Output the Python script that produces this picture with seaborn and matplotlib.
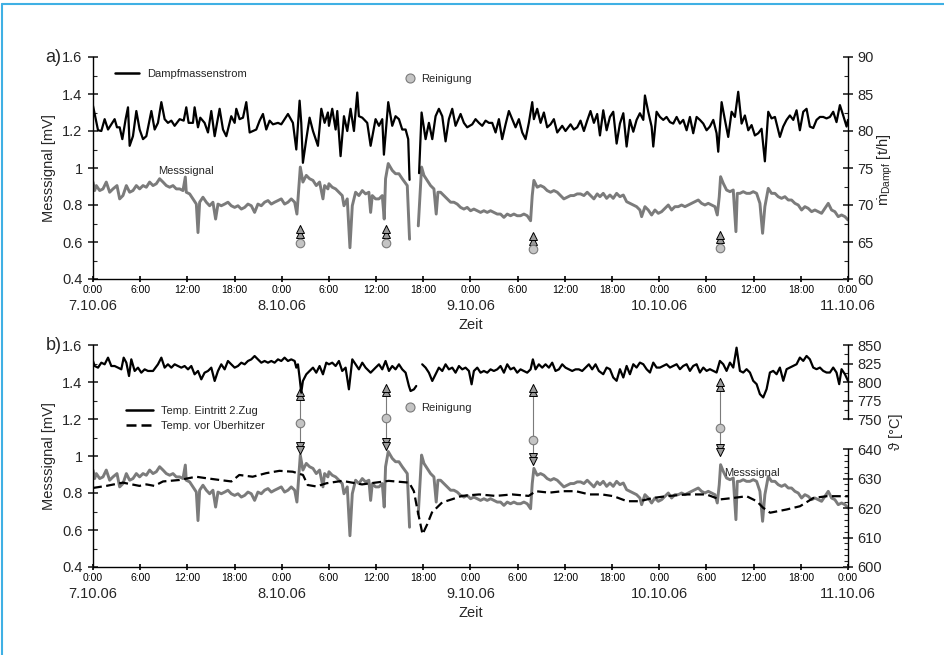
import numpy as np
import pandas as pd
import matplotlib
matplotlib.use('Agg')
import matplotlib.pyplot as plt
import seaborn as sns
from matplotlib.ticker import MultipleLocator, FuncFormatter, FixedLocator
from matplotlib.lines import Line2D

# ---------------- data (time in hours from 7.10.06 0:00) ----------------
sig_t = [0.00, 0.21, 0.42, 0.85, 1.27, 1.69, 2.12, 2.54, 3.05, 3.39, 3.81, 4.24, 4.66, 5.08, 5.51, 5.93, 6.36, 6.78,
         7.20, 7.63, 8.05, 8.47, 8.90, 9.32, 9.75, 10.17, 10.59, 11.02, 11.44, 11.74, 11.86, 12.29, 12.71, 13.14,
         13.35, 13.56, 13.98, 14.41, 14.83, 15.25, 15.59, 15.89, 16.31, 16.74, 17.16, 17.58, 18.01, 18.43, 18.86,
         19.28, 19.70, 20.13, 20.55, 20.97, 21.40, 21.82, 22.25, 22.67, 23.09, 23.52, 23.94, 24.36, 24.79, 25.21,
         25.64, 25.93, 26.19, 26.36, 26.69, 27.12, 27.54, 27.97, 28.39, 28.81, 29.24, 29.45, 29.87,
         30.00, 30.42, 30.85, 31.27, 31.69, 31.91, 32.33, 32.67, 32.97, 33.39, 33.81, 34.24, 34.66, 35.08, 35.30,
         35.51, 35.93, 36.36, 36.78, 37.03, 37.20, 37.54, 38.05, 38.47, 38.90, 39.32, 39.96, 40.25, 40.80,
         41.36, 41.78, 42.08, 42.50, 42.92, 43.35, 43.64, 43.86, 44.19, 44.62, 45.04, 45.47, 45.89, 46.31, 46.74,
         47.16, 47.58, 48.01, 48.43, 48.86, 49.28, 49.70, 50.13, 50.55, 50.97, 51.40, 51.82, 52.25, 52.67, 53.09,
         53.52, 53.94, 54.36, 54.79, 55.21, 55.64, 55.85, 56.06, 56.48, 56.91, 57.33, 57.75, 58.18, 58.60, 59.03,
         59.45, 59.87, 60.30, 60.72, 61.14, 61.57, 61.99, 62.42, 62.84, 63.26, 63.69, 64.11,
         64.46, 64.88, 65.31, 65.73, 66.15, 66.58, 67.00, 67.43, 67.85, 68.27, 68.70, 69.12, 69.54, 69.76, 70.18,
         70.60, 71.03, 71.45, 71.88, 72.30, 72.72, 73.15, 73.57, 73.99, 74.42, 74.84, 75.27, 75.69, 76.11, 76.54,
         76.96, 77.38, 77.81, 78.23, 78.65, 79.08, 79.38, 79.63, 79.80, 80.14, 80.56, 80.99, 81.41, 81.75, 81.92,
         82.26, 82.68, 83.10, 83.53, 83.95, 84.38, 84.80, 85.14, 85.43, 85.86, 86.28, 86.71, 87.13, 87.55, 87.98,
         88.40, 88.82, 89.25, 89.67, 90.10, 90.52, 90.94, 91.37, 91.79, 92.21, 92.64, 93.06, 93.49, 93.91, 94.33,
         94.76, 95.18, 95.61, 96.00]
sig_mv = [0.924, 0.878, 0.905, 0.878, 0.887, 0.924, 0.869, 0.887, 0.905, 0.833, 0.851, 0.905, 0.869, 0.878, 0.905,
          0.887, 0.905, 0.896, 0.924, 0.905, 0.915, 0.942, 0.924, 0.905, 0.896, 0.905, 0.887, 0.887, 0.878, 0.951,
          0.869, 0.860, 0.833, 0.805, 0.651, 0.815, 0.842, 0.815, 0.796, 0.815, 0.724, 0.805, 0.796, 0.805, 0.815,
          0.796, 0.787, 0.796, 0.778, 0.787, 0.805, 0.796, 0.760, 0.805, 0.796, 0.815, 0.824, 0.805, 0.815, 0.824,
          0.833, 0.805, 0.815, 0.833, 0.815, 0.751, 0.905, 1.005, 0.924, 0.960, 0.942, 0.933, 0.905, 0.924, 0.833,
          0.905, 0.887,
          0.915, 0.896, 0.887, 0.869, 0.851, 0.796, 0.833, 0.569, 0.796, 0.869, 0.851, 0.878, 0.860, 0.869, 0.760,
          0.851, 0.833, 0.833, 0.851, 0.724, 0.942, 1.024, 0.987, 0.969, 0.969, 0.942, 0.905, 0.615, np.nan,
          0.687, 1.005, 0.960, 0.933, 0.905, 0.887, 0.751, 0.869, 0.869, 0.851, 0.833, 0.815, 0.815, 0.805, 0.787,
          0.778, 0.787, 0.769, 0.778, 0.769, 0.760, 0.769, 0.760, 0.769, 0.760, 0.751, 0.751, 0.733, 0.751, 0.742,
          0.751, 0.742, 0.742, 0.751, 0.742, 0.715, 0.851, 0.933, 0.896, 0.905, 0.896, 0.878, 0.869, 0.878, 0.869,
          0.851, 0.833, 0.842, 0.851, 0.851, 0.860, 0.860, 0.851, 0.869, 0.851, 0.833, 0.860,
          0.845, 0.863, 0.836, 0.854, 0.836, 0.863, 0.845, 0.854, 0.818, 0.809, 0.800, 0.791, 0.773, 0.737, 0.791,
          0.773, 0.746, 0.773, 0.755, 0.764, 0.782, 0.800, 0.773, 0.791, 0.791, 0.800, 0.791, 0.800, 0.809, 0.818,
          0.827, 0.809, 0.800, 0.809, 0.800, 0.791, 0.746, 0.845, 0.953, 0.917, 0.881, 0.872, 0.881, 0.656, 0.863,
          0.863, 0.872, 0.863, 0.863, 0.872, 0.863, 0.809, 0.647, 0.791, 0.890, 0.863, 0.863, 0.845, 0.836, 0.845,
          0.827, 0.827, 0.809, 0.800, 0.773, 0.791, 0.782, 0.764, 0.773, 0.764, 0.755, 0.782, 0.809, 0.773, 0.764,
          0.737, 0.746, 0.737, 0.719]

steam_t = [0.00, 0.64, 1.06, 1.48, 1.91, 2.33, 2.75, 3.05, 3.39, 3.73, 4.15, 4.45, 4.66, 5.08, 5.51, 5.93, 6.36,
           6.78, 7.42, 7.84, 8.26, 8.69, 9.11, 9.53, 9.96, 10.38, 11.02, 11.53, 11.86, 12.16, 12.71, 12.92, 13.35,
           13.64, 14.19, 14.62, 15.04, 15.47, 16.10, 16.53, 16.95, 17.58, 18.01, 18.22, 18.64, 19.07, 19.49, 19.92,
           20.34, 20.76, 21.19, 21.61, 22.03, 22.46, 22.88, 23.52, 23.94, 24.79, 25.42, 25.85, 26.27, 26.48, 26.69,
           27.12, 27.54, 27.97, 28.60, 29.03, 29.45, 29.87,
           30.00, 30.42, 30.85, 31.06, 31.48, 31.91, 32.33, 32.75, 33.18, 33.60, 33.81, 34.24, 34.87, 35.30, 35.93,
           36.36, 36.78, 36.99, 37.54, 38.05, 38.47, 38.90, 39.32, 39.75, 40.08, 40.25, 40.80, 41.46, 41.78, 42.29,
           42.71, 43.14, 43.56, 43.98, 44.41, 44.83, 45.25, 45.68, 46.10, 46.74, 47.16, 47.58, 48.22, 48.64, 49.07,
           49.49, 49.92, 50.34, 50.76, 51.19, 51.61, 52.03, 52.46, 52.88, 53.31, 53.73, 54.15, 54.58, 55.00, 55.42,
           55.85, 56.06, 56.48, 56.91, 57.33, 57.75, 58.18, 58.60, 59.03, 59.66, 60.08, 60.72, 61.14, 61.57, 61.99,
           62.42, 62.84, 63.26, 63.69, 64.11,
           64.46, 64.88, 65.31, 65.73, 66.15, 66.58, 67.00, 67.43, 67.85, 68.27, 68.70, 69.12, 69.54, 69.97, 70.18,
           70.60, 71.03, 71.24, 71.66, 72.09, 72.51, 72.93, 73.36, 73.78, 74.21, 74.63, 75.05, 75.48, 75.90, 76.32,
           76.75, 77.17, 77.60, 78.02, 78.44, 78.87, 79.29, 79.50, 79.93, 80.35, 80.77, 81.20, 81.62, 82.04, 82.47,
           82.89, 83.32, 83.74, 84.16, 84.59, 85.01, 85.43, 85.86, 86.28, 86.71, 87.34, 87.76, 88.19, 88.61, 89.04,
           89.46, 89.88, 90.31, 90.73, 91.15, 91.58, 92.00, 92.43, 92.85, 93.27, 93.70, 94.12, 94.54, 94.97, 95.39,
           95.82, 96.00]
steam_th = [83.4, 80.1, 80.0, 81.6, 80.2, 80.9, 81.6, 80.5, 80.5, 78.9, 81.6, 83.2, 78.0, 79.3, 82.7, 80.2, 78.9,
            79.3, 82.7, 80.2, 81.1, 83.9, 81.6, 81.1, 81.4, 80.7, 81.6, 81.4, 83.2, 81.1, 81.1, 83.2, 80.5, 81.8,
            81.1, 79.8, 82.7, 79.3, 83.0, 80.2, 79.3, 82.0, 81.1, 83.0, 81.6, 81.8, 83.9, 79.8, 80.0, 80.2, 81.4,
            82.3, 80.2, 81.4, 80.9, 81.1, 80.9, 82.3, 81.1, 77.5, 84.1, 81.1, 75.7, 78.9, 81.8, 80.0, 78.0, 83.0,
            81.1, 82.5,
            80.7, 83.0, 80.2, 82.7, 76.6, 82.0, 80.0, 83.0, 80.0, 85.2, 82.0, 81.8, 81.1, 78.0, 81.6, 80.7, 81.6,
            76.8, 83.9, 80.7, 82.0, 81.6, 80.2, 80.2, 78.9, 73.4, np.nan, 74.3, 82.5, 78.9, 81.1, 78.9, 82.0, 83.0,
            82.0, 78.6, 81.6, 83.0, 80.7, 82.3, 81.1, 80.5, 80.9, 81.6, 81.1, 80.7, 81.4, 81.1, 81.1, 79.8, 81.6,
            78.9, 80.9, 82.7, 81.6, 80.5, 81.6, 79.8, 78.9, 81.1, 83.9, 81.6, 83.0, 81.1, 82.5, 80.5, 80.9, 81.6,
            79.8, 80.7, 80.0, 80.9, 80.2, 80.5, 81.4, 80.0, 81.4, 82.7, 81.1, 82.3,
            79.4, 82.8, 80.1, 81.9, 82.6, 78.3, 81.0, 82.4, 77.9, 81.5, 79.9, 81.5, 82.4, 81.5, 84.8, 82.6, 80.6,
            77.9, 82.6, 81.9, 81.5, 81.9, 81.2, 81.0, 81.9, 81.0, 81.5, 80.1, 81.9, 79.7, 81.9, 81.5, 81.0, 80.1,
            80.6, 81.5, 79.7, 77.2, 83.9, 81.5, 79.2, 82.6, 81.9, 85.3, 81.0, 82.1, 80.1, 80.8, 79.4, 79.7, 80.3,
            75.9, 82.6, 81.7, 81.9, 79.2, 80.6, 81.5, 82.1, 81.5, 82.8, 80.1, 82.6, 83.0, 80.6, 80.4, 81.5, 81.9,
            81.9, 81.7, 81.9, 82.6, 81.2, 83.5, 82.1, 80.6, 81.5]

t2z_t = [0.00, 0.21, 0.64, 1.06, 1.48, 1.91, 2.33, 2.75, 3.18, 3.60, 3.90, 4.24, 4.58, 4.87, 5.30, 5.72, 6.14, 6.57,
         6.99, 7.63, 8.26, 8.69, 9.11, 9.53, 9.96, 10.38, 10.81, 11.23, 11.65, 12.08, 12.50, 12.92, 13.35, 13.77,
         14.19, 14.62, 15.04, 15.47, 15.89, 16.31, 16.74, 17.16, 17.58, 18.01, 18.43, 18.86, 19.28, 19.70, 20.13,
         20.55, 20.97, 21.40, 21.82, 22.25, 22.67, 23.09, 23.52, 23.94, 24.36, 24.79, 25.21, 25.64, 25.85, 26.06,
         26.27, 26.48, 26.69, 27.12, 27.54, 27.97, 28.39, 28.81, 29.24, 29.66,
         30.00, 30.42, 30.85, 31.27, 31.69, 32.12, 32.54, 32.97, 33.39, 33.81, 34.24, 34.66, 35.30, 35.93, 36.36,
         36.78, 37.20, 37.63, 38.05, 38.47, 38.90, 39.32, 39.75, 40.17, 40.38, 40.81, 41.10, 41.50, 41.86, 42.29,
         42.71, 43.14, 43.56, 43.98, 44.41, 44.83, 45.25, 45.68, 46.10, 46.53, 46.95, 47.37, 47.80, 48.14, 48.43,
         48.86, 49.28, 49.70, 50.13, 50.55, 50.97, 51.40, 51.82, 52.25, 52.67, 53.09, 53.52, 53.94, 54.36, 54.79,
         55.21, 55.64, 55.93, 56.27, 56.69, 57.12, 57.54, 57.97, 58.39, 58.81, 59.24, 59.66, 60.08, 60.51, 60.93,
         61.36, 61.78, 62.20, 62.63, 63.05, 63.47, 63.90, 64.32,
         64.88, 65.31, 65.73, 66.15, 66.58, 67.00, 67.43, 67.85, 68.27, 68.70, 69.12, 69.54, 69.97, 70.39, 70.82,
         71.24, 71.66, 72.09, 72.51, 72.93, 73.36, 73.78, 74.21, 74.63, 75.05, 75.48, 75.90, 76.32, 76.75, 77.17,
         77.60, 78.02, 78.44, 78.87, 79.29, 79.71, 80.14, 80.56, 80.99, 81.41, 81.83, 82.26, 82.68, 83.10, 83.53,
         83.95, 84.38, 84.80, 85.22, 85.65, 86.07, 86.49, 86.92, 87.34, 87.77, 88.19, 88.61, 89.04, 89.46, 89.88,
         90.31, 90.73, 91.15, 91.58, 92.00, 92.43, 92.85, 93.27, 93.70, 94.12, 94.54, 94.88, 95.18, 95.61, 96.00]
t2z_c = [828.4, 821.6, 819.4, 826.1, 823.9, 832.9, 821.6, 821.6, 819.4, 817.1, 832.9, 826.1, 808.1, 830.6, 814.9,
         819.4, 812.6, 817.1, 814.9, 814.9, 823.9, 832.9, 819.4, 823.9, 819.4, 823.9, 821.6, 819.4, 821.6, 817.1,
         821.6, 810.4, 814.9, 803.6, 812.6, 814.9, 819.4, 801.4, 814.9, 823.9, 817.1, 828.4, 823.9, 819.4, 821.6,
         826.1, 823.9, 828.4, 830.6, 835.1, 830.6, 826.1, 828.4, 826.1, 828.4, 826.1, 830.6, 828.4, 832.9, 828.4,
         830.6, 828.4, 819.4, 823.9, 805.9, 785.6, 801.4, 810.4, 814.9, 819.4, 812.6, 821.6, 810.4, 826.1,
         823.9, 826.1, 821.6, 828.4, 814.9, 819.4, 790.1, 830.6, 823.9, 817.1, 826.1, 819.4, 812.6, 819.4, 823.9,
         817.1, 828.4, 814.9, 821.6, 817.1, 823.9, 817.1, 812.6, 794.6, 787.8, 790.1, 794.6, np.nan, 823.9, 819.4,
         812.6, 801.4, 810.4, 819.4, 814.9, 823.9, 817.1, 819.4, 812.6, 821.6, 817.1, 819.4, 814.9, 796.9, 814.9,
         819.4, 812.6, 814.9, 812.6, 817.1, 814.9, 817.1, 821.6, 812.6, 823.9, 817.1, 819.4, 812.6, 817.1, 814.9,
         812.6, 817.1, 830.6, 817.1, 823.9, 819.4, 823.9, 819.4, 826.1, 814.9, 817.1, 823.9, 819.4, 817.1, 814.9,
         817.1, 817.1, 814.9, 819.4, 823.9, 817.1, 823.9, 814.9,
         810.5, 819.5, 817.3, 806.1, 801.6, 817.3, 806.1, 821.7, 810.5, 824.0, 819.5, 826.2, 824.0, 817.3, 812.8,
         826.2, 819.5, 819.5, 821.7, 824.0, 819.5, 821.7, 824.0, 817.3, 821.7, 824.0, 815.0, 821.7, 824.0, 812.8,
         819.5, 815.0, 817.3, 815.0, 812.8, 828.5, 824.0, 815.0, 826.2, 819.5, 846.4, 815.0, 812.8, 817.3, 812.8,
         801.6, 797.1, 783.6, 779.1, 790.4, 812.8, 815.0, 810.5, 819.5, 801.6, 817.3, 819.5, 821.7, 824.0, 833.0,
         828.5, 835.2, 830.7, 819.5, 817.3, 819.5, 815.0, 812.8, 812.8, 819.5, 812.8, 797.1, 817.3, 810.5, 801.6]

vue_t = [0.0, 1.7, 3.8, 5.9, 6.8, 7.8, 8.9, 11.0, 13.1, 14.4, 16.1, 17.6, 18.6, 20.3, 22.0, 23.7, 25.4, 26.7, 27.3,
         28.4, 29.7, 31.7, 34.2, 35.9, 37.6, 40.2, 40.8, 41.2, 41.9, 42.5, 43.1, 44.4, 45.7, 46.9, 49.1, 51.2, 53.3,
         55.4, 56.3, 58.0, 59.7, 61.4, 63.1, 64.7, 66.2, 67.9, 69.5, 71.2, 72.9, 75.5, 78.0, 79.7, 81.4, 83.1, 84.4,
         85.2, 86.1, 88.2, 89.9, 91.6, 93.3, 96.0]
vue_c = [626.8, 627.5, 628.6, 627.5, 628.0, 627.5, 629.0, 629.5, 630.6, 630.1, 629.5, 629.0, 631.2, 630.6, 631.8,
         632.6, 632.3, 631.2, 627.8, 627.3, 628.4, 629.2, 628.0, 628.6, 629.2, 628.6, 625.7, 620.1, 611.1, 614.5,
         618.5, 621.9, 623.0, 624.1, 624.6, 624.1, 624.6, 624.1, 625.7, 625.2, 625.7, 625.7, 624.6, 624.6, 624.0,
         622.3, 622.3, 623.4, 624.0, 624.6, 624.6, 622.9, 623.4, 624.0, 622.3, 620.1, 618.4, 619.5, 620.6, 623.4,
         624.0, 624.0]

# cleaning events (Reinigung)
rein_t = [26.3, 37.2, 56.0, 79.7]
rein_a_circle = [0.597, 0.597, 0.560, 0.566]
rein_a_tip = [0.690, 0.690, 0.650, 0.660]
rein_b_top = [1.37, 1.39, 1.39, 1.42]
rein_b_bot = [1.01, 1.03, 0.95, 1.00]
rein_b_circle = [1.180, 1.206, 1.086, 1.150]

tick_hours = list(range(0, 97, 6))
tick_names = ['0:00', '6:00', '12:00', '18:00'] * 4 + ['0:00']
date_hours = [0, 24, 48, 72, 96]
date_names = ['7.10.06', '8.10.06', '9.10.06', '10.10.06', '11.10.06']

# ---------------- style ----------------
sns.set_style('ticks')
plt.rcParams['font.family'] = ['Liberation Sans', 'DejaVu Sans']
plt.rcParams['mathtext.fontset'] = 'custom'
plt.rcParams['mathtext.rm'] = 'Liberation Sans'
plt.rcParams['mathtext.it'] = 'Liberation Sans:italic'

GRAY = '#7b7b7b'
CIRC_FC = '#c4c4c4'
CIRC_EC = '#7a7a7a'

fig = plt.figure(figsize=(9.45, 6.55), dpi=100)
W, H = 945, 655


def axrect(x0, y0, x1, y1):
    return [x0 / W, 1 - y1 / H, (x1 - x0) / W, (y1 - y0) / H]


def draw(ax, t, v, **kw):
    df = pd.DataFrame({'t': t, 'v': v})
    df['seg'] = df['v'].isna().cumsum()
    df = df.dropna()
    sns.lineplot(data=df, x='t', y='v', units='seg', estimator=None, sort=False,
                 ax=ax, legend=False, **kw)
    ax.set_xlabel('')
    ax.set_ylabel('')


def style_time_axis(ax):
    ax.set_xlim(0, 96)
    ax.set_xticks(tick_hours)
    ax.set_xticklabels(tick_names, fontsize=7.5)
    ax.tick_params(axis='x', which='major', direction='inout', length=5, width=1.2, pad=1.5,
                   colors='black')
    for h, d in zip(date_hours, date_names):
        ax.annotate(d, xy=(h, 0), xycoords=('data', 'axes fraction'), xytext=(0, -19.5),
                    textcoords='offset points', ha='center', va='center', fontsize=10.5)
    ax.set_xlabel('Zeit', fontsize=10.5)
    ax.xaxis.set_label_coords(0.5, -0.175)


def style_left(ax):
    ax.set_ylim(0.4, 1.6)
    ax.yaxis.set_major_locator(MultipleLocator(0.2))
    ax.yaxis.set_minor_locator(MultipleLocator(0.1))
    ax.yaxis.set_major_formatter(FuncFormatter(lambda v, p: f'{v:g}'))
    ax.tick_params(axis='y', which='major', direction='inout', length=7, width=1.2,
                   labelsize=10.5, pad=4)
    ax.tick_params(axis='y', which='minor', direction='in', length=3, width=0.8)
    ax.set_ylabel('Messsignal [mV]', fontsize=10.5)
    ax.yaxis.set_label_coords(-0.049, 0.5)
    for s in ['top', 'right']:
        ax.spines[s].set_visible(False)
    for s in ['left', 'bottom']:
        ax.spines[s].set_color('black')
        ax.spines[s].set_linewidth(1.0)


def style_right(axr):
    for s in ['top', 'left', 'bottom']:
        axr.spines[s].set_visible(False)
    axr.spines['right'].set_color('black')
    axr.spines['right'].set_linewidth(1.0)
    axr.tick_params(axis='y', which='major', direction='inout', length=7, width=1.2,
                    labelsize=10.5, pad=3)
    axr.tick_params(axis='y', which='minor', direction='in', length=3, width=0.8)


# ================= panel a =================
axA = fig.add_axes(axrect(93, 57, 848, 279))
axA2 = axA.twinx()
draw(axA, sig_t, sig_mv, color=GRAY, linewidth=2.1)
draw(axA2, steam_t, steam_th, color='black', linewidth=1.6)
style_left(axA)
style_time_axis(axA)
axA2.set_ylim(60, 90)
axA2.yaxis.set_major_locator(MultipleLocator(5))
axA2.yaxis.set_minor_locator(MultipleLocator(2.5))
style_right(axA2)

# cleaning markers panel a
for t, c, tip in zip(rein_t, rein_a_circle, rein_a_tip):
    axA.plot([t, t], [c, tip], color=GRAY, lw=0.8, zorder=4)
    axA.plot([t, t], [tip - 0.045, tip - 0.02], linestyle='none', marker='^', ms=5.5,
             mfc='#9a9a9a', mec='black', mew=0.7, zorder=5)
axA.scatter(rein_t, rein_a_circle, s=38, c=CIRC_FC, edgecolors=CIRC_EC, linewidths=0.8, zorder=6)

axA.text(11.8, 0.985, 'Messsignal', fontsize=8, ha='center', va='center')
legA1 = axA2.legend([Line2D([], [], color='black', lw=1.8)], ['Dampfmassenstrom'],
                    loc='center left', bbox_to_anchor=(0.029, 0.923), frameon=False, fontsize=8,
                    handlelength=2.2, handletextpad=0.7, borderpad=0, borderaxespad=0)
axA2.add_artist(legA1)
axA2.legend([Line2D([], [], linestyle='none', marker='o', ms=6.5, mfc=CIRC_FC, mec=CIRC_EC, mew=0.8)],
            ['Reinigung'], loc='center left', bbox_to_anchor=(0.413, 0.90), frameon=False, fontsize=8,
            handlelength=1.0, handletextpad=0.5, borderpad=0, borderaxespad=0)

# ================= panel b =================
axB = fig.add_axes(axrect(93, 345, 848, 567))
axBu = axB.twinx()
axBl = axB.twinx()
draw(axB, sig_t, sig_mv, color=GRAY, linewidth=2.1)
draw(axBu, t2z_t, t2z_c, color='black', linewidth=1.6)
draw(axBl, vue_t, vue_c, color='black', linewidth=1.6, linestyle=(0, (4, 2)))
style_left(axB)
style_time_axis(axB)

# upper broken scale 750-850 occupying top third
axBu.set_ylim(550, 850)
axBu.set_yticks([750, 775, 800, 825, 850])
style_right(axBu)
axBu.spines['right'].set_bounds(750, 850)
axBu.yaxis.set_minor_locator(FixedLocator([762.5, 787.5, 812.5, 837.5]))

# lower scale 600-640
axBl.set_ylim(600, 600 + 40 / 0.5315)
axBl.set_yticks([600, 610, 620, 630, 640])
axBl.yaxis.set_minor_locator(FixedLocator([v for v in range(602, 640, 2) if v % 10 != 0]))
style_right(axBl)
axBl.spines['right'].set_bounds(600, 640)

for t, top, bot, c in zip(rein_t, rein_b_top, rein_b_bot, rein_b_circle):
    axB.plot([t, t], [bot, top], color=GRAY, lw=0.8, zorder=4)
    axB.plot([t, t], [top - 0.045, top - 0.022], linestyle='none', marker='^', ms=5.5,
             mfc='#9a9a9a', mec='black', mew=0.7, zorder=5)
    axB.plot([t, t], [bot + 0.045, bot + 0.022], linestyle='none', marker='v', ms=5.5,
             mfc='#9a9a9a', mec='black', mew=0.7, zorder=5)
axB.scatter(rein_t, rein_b_circle, s=38, c=CIRC_FC, edgecolors=CIRC_EC, linewidths=0.8, zorder=6)

axB.text(83.8, 0.908, 'Messsignal', fontsize=8, ha='center', va='center')
legB1 = axBl.legend([Line2D([], [], color='black', lw=1.8),
                     Line2D([], [], color='black', lw=1.8, linestyle=(0, (4, 2)))],
                    ['Temp. Eintritt 2.Zug', 'Temp. vor Überhitzer'],
                    loc='center left', bbox_to_anchor=(0.044, 0.669), frameon=False, fontsize=8,
                    handlelength=2.4, handletextpad=0.7, labelspacing=0.35, borderpad=0, borderaxespad=0)
axBl.add_artist(legB1)
axBl.legend([Line2D([], [], linestyle='none', marker='o', ms=6.5, mfc=CIRC_FC, mec=CIRC_EC, mew=0.8)],
            ['Reinigung'], loc='center left', bbox_to_anchor=(0.413, 0.716), frameon=False, fontsize=8,
            handlelength=1.0, handletextpad=0.5, borderpad=0, borderaxespad=0)

# ---------------- figure texts ----------------
fig.text(53 / W, 1 - 58 / H, 'a)', fontsize=13, ha='center', va='center')
fig.text(54 / W, 1 - 345 / H, 'b)', fontsize=13, ha='center', va='center')
fig.text(885 / W, 1 - 170 / H, r'$\dot{\mathrm{m}}_{\mathrm{Dampf}}$ [t/h]', fontsize=10.5,
         rotation=90, ha='center', va='center')
fig.text(896 / W, 1 - 432 / H, 'ϑ [°C]', fontsize=10.5, rotation=90, ha='center', va='center')

# light-blue frame (top and left edges)
fig.add_artist(Line2D([2.5 / W, 2.5 / W], [0, 1 - 3.5 / H], transform=fig.transFigure,
                      color='#3fb0e4', lw=1.5))
fig.add_artist(Line2D([2.5 / W, 1], [1 - 3.5 / H, 1 - 3.5 / H], transform=fig.transFigure,
                      color='#3fb0e4', lw=1.5))

fig.savefig('out.png', dpi=100)
